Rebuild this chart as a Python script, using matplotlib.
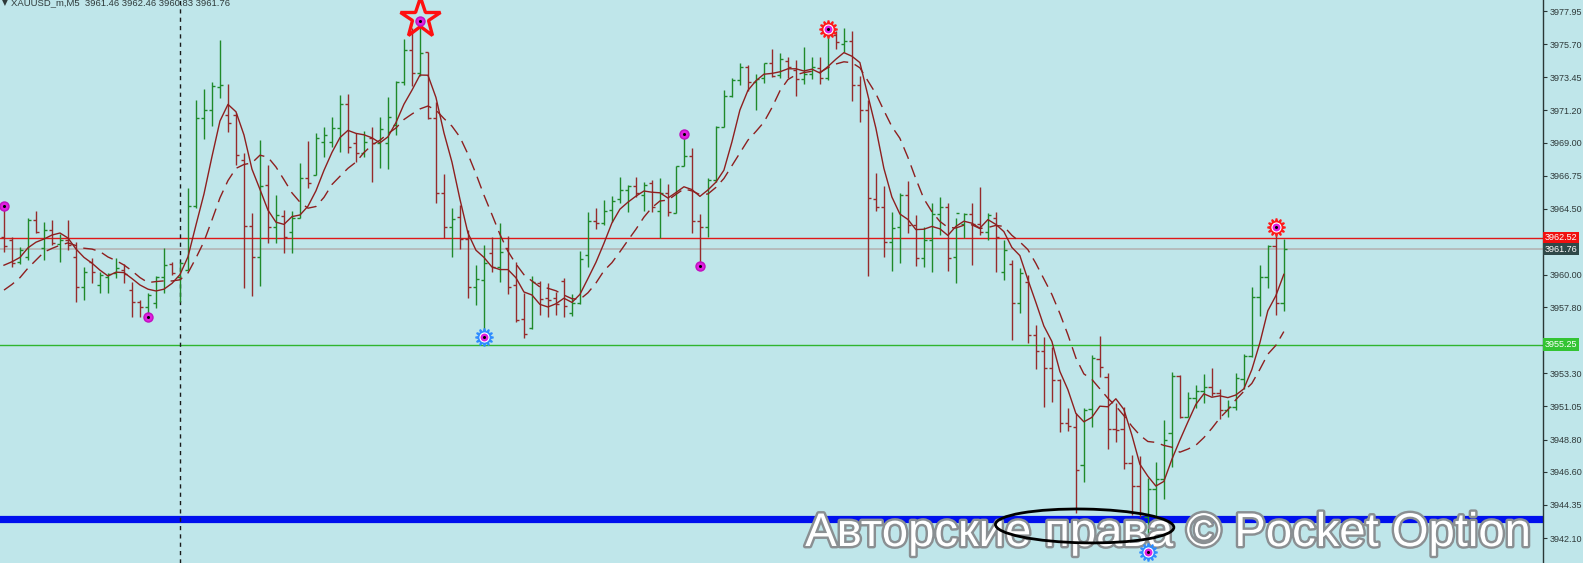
import numpy as np
import pandas as pd
import matplotlib
matplotlib.use("Agg")
import matplotlib.pyplot as plt
import matplotlib.patheffects as pe
from matplotlib.patches import Ellipse

# XAUUSD_m M5 bars (prices)
opens = [3962.58, 3962.37, 3960.88, 3961.22, 3963.73, 3961.83, 3963.05, 3962.10, 3962.37, 3961.22,
         3959.18, 3960.88, 3959.31, 3959.86, 3960.13, 3960.33, 3958.97, 3958.16, 3957.82, 3958.09,
         3959.86, 3960.74, 3959.86, 3960.33, 3964.69, 3970.67, 3971.22, 3972.78, 3970.88, 3970.88,
         3967.82, 3963.33, 3961.22, 3966.11, 3963.26, 3964.01, 3962.92, 3963.87, 3966.59, 3966.80,
         3969.04, 3969.04, 3969.99, 3971.63, 3968.97, 3968.29, 3969.31, 3968.97, 3968.97, 3970.20,
         3973.12, 3975.30, 3973.73, 3975.16, 3970.67, 3965.57, 3963.26, 3963.94, 3962.44, 3959.18,
         3959.65, 3961.49, 3960.54, 3961.83, 3959.31, 3957.00, 3956.39, 3959.45, 3958.43, 3958.43,
         3959.58, 3957.41, 3958.09, 3961.35, 3963.67, 3963.53, 3964.41, 3965.16, 3965.77, 3966.05,
         3965.43, 3966.25, 3964.35, 3965.57, 3964.21, 3967.41, 3968.09, 3963.67, 3963.26, 3966.45,
         3970.06, 3972.17, 3973.26, 3974.14, 3973.12, 3973.39, 3974.41, 3973.60, 3974.55, 3973.94,
         3973.33, 3973.67, 3974.07, 3973.39, 3976.32, 3975.71, 3975.91, 3972.92, 3971.22, 3965.16,
         3964.62, 3962.24, 3963.26, 3965.43, 3963.39, 3961.15, 3962.37, 3964.14, 3964.62, 3961.22,
         3963.46, 3964.14, 3963.46, 3962.92, 3963.87, 3960.20, 3960.74, 3958.09, 3959.52, 3955.91,
         3954.82, 3953.67, 3952.85, 3949.92, 3949.65, 3947.07, 3950.88, 3954.28, 3953.05, 3949.52,
         3949.52, 3947.20, 3945.64, 3943.53, 3945.43, 3946.11, 3949.24, 3953.12, 3950.33, 3951.62,
         3952.10, 3952.37, 3951.96, 3950.81, 3951.01, 3952.92, 3954.48, 3958.50, 3959.86, 3961.97,
         3958.09]
highs = [3964.69, 3962.58, 3961.90, 3963.87, 3964.35, 3963.60, 3963.73, 3962.78, 3963.73, 3962.24,
         3960.54, 3961.15, 3960.20, 3960.13, 3961.15, 3960.74, 3959.52, 3958.29, 3958.77, 3959.92,
         3961.83, 3960.88, 3960.88, 3965.91, 3971.90, 3972.65, 3973.12, 3975.98, 3972.99, 3971.01,
         3968.29, 3964.21, 3969.18, 3967.48, 3965.43, 3964.41, 3964.35, 3967.61, 3969.11, 3969.65,
         3970.06, 3970.74, 3972.24, 3972.31, 3969.65, 3969.79, 3970.06, 3970.74, 3972.10, 3973.19,
         3976.05, 3976.80, 3977.27, 3975.16, 3971.76, 3966.86, 3964.55, 3964.75, 3963.05, 3960.67,
         3962.03, 3962.58, 3963.53, 3962.64, 3960.88, 3958.77, 3959.92, 3959.58, 3959.45, 3958.84,
         3959.79, 3958.70, 3961.62, 3964.28, 3964.55, 3965.09, 3965.37, 3966.66, 3966.11, 3966.66,
         3966.32, 3966.45, 3966.59, 3966.18, 3967.41, 3969.58, 3968.63, 3964.14, 3966.59, 3970.13,
         3972.58, 3973.39, 3974.41, 3974.28, 3973.67, 3974.41, 3975.37, 3975.09, 3974.82, 3974.62,
         3975.50, 3974.82, 3974.82, 3976.73, 3976.59, 3976.80, 3976.59, 3973.53, 3971.90, 3966.93,
         3966.05, 3964.28, 3965.57, 3966.39, 3964.07, 3963.26, 3964.89, 3965.30, 3964.89, 3963.87,
         3964.21, 3964.89, 3965.98, 3964.21, 3964.28, 3962.37, 3961.01, 3960.47, 3959.99, 3956.59,
         3955.77, 3955.09, 3952.92, 3950.94, 3950.60, 3950.94, 3954.55, 3955.84, 3953.33, 3951.28,
         3951.01, 3947.75, 3947.68, 3946.18, 3947.27, 3950.13, 3953.39, 3953.19, 3952.03, 3952.51,
         3953.26, 3953.67, 3952.24, 3951.49, 3953.33, 3954.62, 3959.18, 3960.67, 3962.03, 3963.26,
         3962.44]
lows = [3961.56, 3960.54, 3960.74, 3961.01, 3962.85, 3961.01, 3962.03, 3960.88, 3961.69, 3958.16,
        3958.29, 3959.45, 3958.77, 3958.77, 3959.79, 3959.45, 3957.13, 3957.13, 3957.13, 3957.75,
        3958.77, 3959.99, 3958.16, 3960.33, 3964.55, 3969.24, 3970.13, 3972.03, 3969.72, 3967.48,
        3959.11, 3958.56, 3959.24, 3962.17, 3962.17, 3961.49, 3961.49, 3963.87, 3965.91, 3966.80,
        3968.02, 3968.70, 3968.36, 3968.29, 3967.68, 3968.02, 3966.32, 3967.27, 3967.20, 3969.52,
        3972.92, 3972.85, 3973.53, 3970.60, 3964.89, 3962.51, 3961.22, 3961.76, 3958.43, 3957.95,
        3955.77, 3960.20, 3959.52, 3958.70, 3956.79, 3955.71, 3956.32, 3957.27, 3957.13, 3957.27,
        3957.13, 3957.20, 3958.02, 3960.54, 3963.12, 3963.39, 3963.60, 3964.89, 3964.28, 3965.30,
        3964.35, 3964.28, 3962.51, 3964.01, 3964.21, 3967.41, 3962.85, 3960.60, 3962.58, 3966.32,
        3970.06, 3972.10, 3972.92, 3972.51, 3971.22, 3973.05, 3973.46, 3973.39, 3973.39, 3972.17,
        3972.99, 3973.33, 3972.99, 3973.26, 3975.37, 3975.16, 3971.83, 3970.40, 3959.92, 3964.35,
        3961.22, 3960.26, 3960.81, 3962.85, 3960.60, 3960.54, 3960.20, 3962.71, 3960.26, 3959.45,
        3962.51, 3960.67, 3962.71, 3962.37, 3960.20, 3959.65, 3955.57, 3957.41, 3955.37, 3953.60,
        3951.01, 3951.35, 3949.31, 3949.38, 3943.80, 3945.91, 3949.65, 3953.05, 3948.16, 3948.63,
        3946.79, 3943.67, 3943.53, 3941.15, 3943.46, 3944.75, 3946.93, 3950.26, 3950.33, 3950.94,
        3951.28, 3951.76, 3950.20, 3950.33, 3950.81, 3952.24, 3954.41, 3957.20, 3959.11, 3957.27,
        3957.54]
closes = [3961.97, 3960.81, 3961.69, 3963.73, 3962.92, 3963.05, 3962.17, 3962.37, 3962.03, 3959.18,
          3960.20, 3960.20, 3959.99, 3960.06, 3960.47, 3960.06, 3958.16, 3957.82, 3958.63, 3959.86,
          3960.67, 3960.13, 3960.81, 3964.69, 3970.67, 3971.22, 3972.85, 3972.92, 3970.33, 3968.16,
          3963.33, 3961.22, 3966.05, 3963.26, 3964.07, 3962.58, 3963.87, 3966.59, 3966.25, 3969.31,
          3969.52, 3969.99, 3971.63, 3968.70, 3968.29, 3969.04, 3968.97, 3969.92, 3970.74, 3973.12,
          3975.30, 3973.73, 3975.09, 3970.67, 3965.57, 3963.26, 3963.80, 3962.44, 3959.18, 3959.72,
          3960.81, 3960.54, 3961.56, 3959.18, 3956.93, 3955.98, 3959.52, 3958.36, 3958.29, 3958.02,
          3957.88, 3958.09, 3961.08, 3963.67, 3963.53, 3964.35, 3965.03, 3965.77, 3966.05, 3965.57,
          3966.11, 3964.62, 3965.57, 3964.28, 3967.41, 3968.09, 3963.67, 3963.26, 3966.45, 3970.06,
          3972.17, 3973.26, 3974.14, 3973.12, 3973.33, 3974.41, 3973.53, 3974.69, 3974.14, 3973.33,
          3973.67, 3974.14, 3973.39, 3976.32, 3975.84, 3975.91, 3972.92, 3971.22, 3965.23, 3964.62,
          3962.24, 3963.19, 3965.43, 3963.39, 3961.15, 3962.37, 3964.14, 3964.62, 3961.15, 3964.21,
          3964.14, 3963.46, 3962.92, 3964.07, 3962.58, 3961.69, 3958.09, 3960.13, 3955.91, 3954.82,
          3953.67, 3952.85, 3949.92, 3949.72, 3946.73, 3950.81, 3954.35, 3953.73, 3949.52, 3949.45,
          3947.20, 3945.64, 3943.80, 3945.43, 3946.11, 3948.77, 3953.12, 3950.33, 3951.62, 3952.10,
          3952.37, 3951.96, 3950.81, 3951.01, 3952.99, 3954.48, 3958.50, 3959.86, 3961.97, 3958.09,
          3961.76]
# closes of the bars just left of the visible window (for the moving averages)
earlier_closes = [3956.93, 3957.07, 3957.27, 3957.48, 3957.61, 3959.65, 3960.20, 3960.47, 3961.01]

# fractal / signal points (bar indices)
up_dots = [0, 52, 85]
down_dots = [18, 87]
red_suns = [103, 159]
blue_suns = [60, 143]
star_bar = 52
cursor_bar = 22

level_red = 3962.52
level_bid = 3961.76
level_green = 3955.25
level_blue = 3943.39

tick_values = [3977.95, 3975.70, 3973.45, 3971.20, 3969.00, 3966.75, 3964.50, 3960.00,
               3957.80, 3953.30, 3951.05, 3948.80, 3946.60, 3944.35, 3942.10]

title = "XAUUSD_m,M5  3961.46 3962.46 3960.83 3961.76"
watermark = "Авторские права © Pocket Option"

BG = "#bfe6ea"
UP = "#1f8a2a"
DOWN = "#962b2b"
MA_COL = "#8e1f1f"

o = np.array(opens); h = np.array(highs); l = np.array(lows); c = np.array(closes)
x = np.arange(len(c))
allc = pd.Series(earlier_closes + closes)
fast = allc.rolling(5).mean().to_numpy()[len(earlier_closes):]
slow = allc.rolling(10).mean().to_numpy()[len(earlier_closes):]

fig = plt.figure(figsize=(15.83, 5.63), dpi=100)
fig.patch.set_facecolor(BG)
ax = fig.add_axes([0, 0, 1543 / 1583, 1])
ax.set_facecolor(BG)
ax.set_xlim(-0.5, 192.4)
ax.set_ylim(3940.40, 3978.70)

# horizontal levels
ax.axhline(level_bid, color="#b4b4b4", lw=1.2, zorder=1)
ax.axhline(level_red, color="#e01818", lw=1.0, zorder=1)
ax.axhline(level_green, color="#2fb52f", lw=1.0, zorder=1)
ax.axhline(level_blue, color="#0010ee", lw=5.2, zorder=1)
ax.axvline(cursor_bar, color="#1a1a1a", lw=1.0, ls=(0, (3, 3)), zorder=1)

# OHLC bars
col = np.where(c >= o, UP, DOWN)
ax.vlines(x, l, h, colors=col, lw=1.0, zorder=3)
ax.hlines(o, x - 0.42, x, colors=col, lw=1.0, zorder=3)
ax.hlines(c, x, x + 0.42, colors=col, lw=1.0, zorder=3)

# moving averages
ax.plot(x, fast, color=MA_COL, lw=1.0, zorder=4)
ax.plot(x, slow, color=MA_COL, lw=1.0, ls=(0, (9, 5)), zorder=4)

# watermark sits over the bars but under the drawn ellipse
ax.text(1168 / 1583, 1 - 546 / 563, watermark, transform=fig.transFigure, fontsize=34,
        color="white", ha="center", va="baseline", family="Liberation Sans", zorder=4.5,
        clip_on=False, path_effects=[pe.withStroke(linewidth=3.5, foreground="#8a8f92")])

# circled area
ax.add_patch(Ellipse((135.1, 3942.92), 22.3, 2.3, angle=-0.5, fill=False,
                     ec="#000000", lw=2.0, zorder=5))

# signal markers
def sun(xs, ys, edge, fill):
    ax.plot(xs, ys, ls="none", marker=(12, 1, 0), ms=13, mfc=fill, mec=edge, mew=1.3, zorder=6)
    ax.plot(xs, ys, ls="none", marker="o", ms=6.5, mfc="#e020e0", mec="#ffffff", mew=0.8, zorder=7)
    ax.plot(xs, ys, ls="none", marker="o", ms=2.2, mfc="#000000", mec="none", zorder=8)

ax.plot([star_bar], [h[star_bar] + 0.2], ls="none", marker="*", ms=30, mfc="none",
        mec="#ff1010", mew=2.4, zorder=5)
for idx, ys in ((up_dots, h[up_dots]), (down_dots, l[down_dots])):
    ax.plot(idx, ys, ls="none", marker="o", ms=6.5, mfc="#e020e0", mec="#c010c0", zorder=7)
    ax.plot(idx, ys, ls="none", marker="o", ms=2.2, mfc="#000000", mec="none", zorder=8)
sun(red_suns, h[red_suns], "#ff1a1a", "#ffc0d8")
sun(blue_suns, l[blue_suns], "#2f8cff", "#ffffff")

# axis styling
for s in ("top", "left", "bottom"):
    ax.spines[s].set_visible(False)
ax.spines["right"].set_color("#2a3636")
ax.spines["right"].set_linewidth(1.0)
ax.set_xticks([])
ax.yaxis.tick_right()
ax.set_yticks(tick_values)
ax.set_yticklabels([f"{t:.2f}" for t in tick_values], family="Liberation Sans")
ax.tick_params(axis="y", direction="out", length=3, width=0.8, color="#2a3636",
               labelsize=6.5, pad=1.5, labelcolor="#2f3a3a")

# price labels on the scale
for val, fc in ((level_red, "#f01010"), (level_bid, "#2f4848"), (level_green, "#33c433")):
    ax.text(1.0012, val, f"{val:.2f}", transform=ax.get_yaxis_transform(), ha="left", va="center",
            fontsize=6.5, family="Liberation Sans", color="white", clip_on=False, zorder=10,
            bbox=dict(boxstyle="square,pad=0.2", fc=fc, ec="none"))

fig.text(2 / 1583, 1 - 5 / 563, "▼", fontsize=5.5, color="#2f3a3a", va="baseline")
fig.text(11 / 1583, 1 - 5 / 563, title, fontsize=6.8, color="#2f3a3a", va="baseline",
         family="Liberation Sans")

fig.savefig("out.png", dpi=100, facecolor=BG)
